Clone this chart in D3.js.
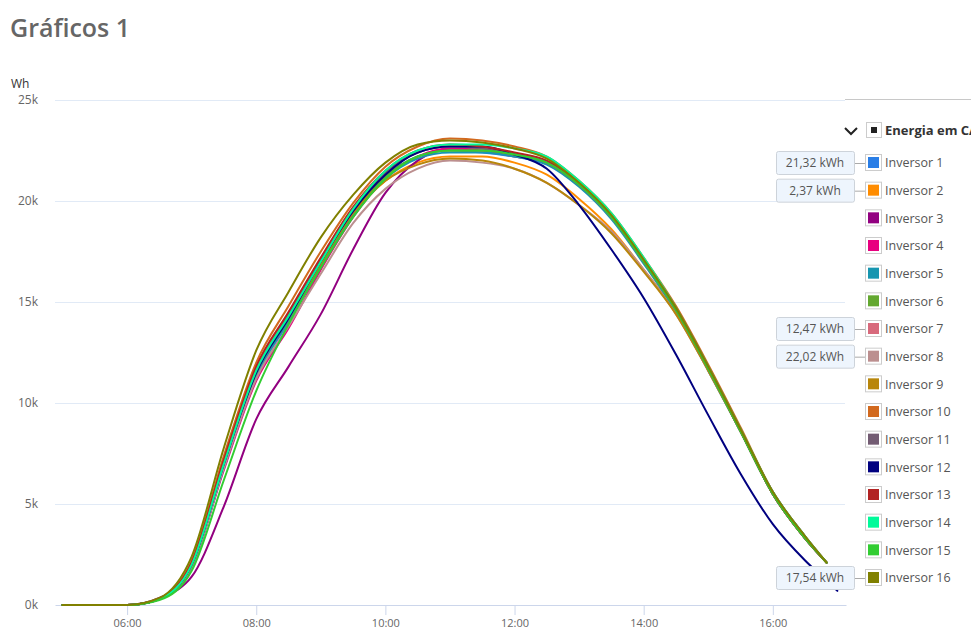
<!DOCTYPE html>
<html lang="pt">
<head>
    <meta charset="UTF-8">
    <script src="https://d3js.org/d3.v7.min.js"></script>
    <title>Gráficos 1</title>
    <style>
      body { margin: 0; background: #fff; }
      #container { width: 971px; height: 635px; }
      svg { font-family: "Open Sans", sans-serif; }
    </style>
</head>
<body>
    <div id="container"></div>
<script>
    // horarios das leituras
    var times = ["05:00","06:00","06:30","07:00","07:30","08:00","08:30","09:00","09:30","10:00","10:30","11:00",
                 "11:30","12:00","12:30","13:00","13:30","14:00","14:30","15:00","15:30","16:00","16:30","16:50","17:00"];

    // energia em CA (kWh) por inversor
    var inversor1  = [0,0,0.3,1.9,6.8,11.3,14.0,16.8,19.3,21.2,22.2,22.5,22.4,22.2,21.9,20.8,19.2,17.0,14.6,11.7,8.6,5.5,3.3,2.1,null];
    var inversor2  = [0,0,0.3,2.0,7.0,11.4,14.1,16.8,19.3,21.0,21.9,22.2,22.2,21.9,21.3,20.1,18.6,16.6,14.5,11.7,8.6,5.5,3.3,2.1,null];
    var inversor3  = [0,0,0.35,1.4,4.9,9.2,11.8,14.4,17.6,20.4,22.0,22.6,22.6,22.3,21.9,20.8,19.2,17.0,14.6,11.7,8.7,5.6,3.4,2.1,null];
    var inversor4  = [0,0,0.3,1.9,6.7,11.1,13.7,16.6,19.2,21.1,22.2,22.6,22.5,22.2,21.9,20.8,19.2,17.0,14.6,11.7,8.6,5.5,3.3,2.1,null];
    var inversor5  = [0,0,0.3,1.9,6.8,11.3,14.1,16.8,19.3,21.1,22.1,22.4,22.4,22.2,21.8,20.7,19.1,16.9,14.5,11.6,8.6,5.5,3.3,2.1,null];
    var inversor6  = [0,0,0.3,2.0,7.0,11.5,14.2,16.9,19.4,21.2,22.2,22.5,22.5,22.3,21.9,20.8,19.2,17.0,14.6,11.7,8.6,5.5,3.3,2.1,null];
    var inversor7  = [0,0,0.3,2.1,7.2,11.8,14.4,17.1,19.6,21.4,22.4,22.7,22.6,22.3,21.9,20.8,19.2,17.0,14.6,11.7,8.7,5.5,3.3,2.1,null];
    var inversor8  = [0,0,0.3,1.9,6.8,11.2,13.8,16.4,18.9,20.6,21.6,22.0,21.9,21.6,20.9,19.8,18.5,16.6,14.4,11.6,8.6,5.5,3.3,2.1,null];
    var inversor9  = [0,0,0.3,2.1,7.2,11.6,14.2,16.9,19.4,21.0,21.8,22.1,22.0,21.6,20.9,19.8,18.4,16.5,14.4,11.6,8.6,5.5,3.3,2.1,null];
    var inversor10 = [0,0,0.3,2.2,7.4,12.0,14.8,17.5,19.9,21.7,22.7,23.1,23.0,22.7,22.2,21.0,19.4,17.2,14.8,11.9,8.8,5.6,3.4,2.1,null];
    var inversor11 = [0,0,0.3,2.0,7.0,11.6,14.4,17.1,19.6,21.4,22.4,22.7,22.6,22.3,21.9,20.8,19.2,17.0,14.6,11.7,8.6,5.5,3.3,2.1,null];
    var inversor12 = [0,0,0.3,2.0,7.0,11.5,14.2,17.0,19.5,21.3,22.4,22.7,22.7,22.3,21.6,19.8,17.6,15.2,12.4,9.4,6.5,4.0,2.2,1.2,0.7];
    var inversor13 = [0,0,0.3,2.1,7.2,11.8,14.5,17.2,19.7,21.5,22.5,22.8,22.7,22.4,22.0,20.9,19.3,17.1,14.7,11.8,8.7,5.5,3.3,2.1,null];
    var inversor14 = [0,0,0.3,2.0,7.0,11.6,14.3,17.0,19.6,21.5,22.5,22.8,22.8,22.6,22.2,21.0,19.4,17.2,14.7,11.8,8.7,5.6,3.4,2.1,null];
    var inversor15 = [0,0,0.25,1.7,6.2,10.6,13.9,16.7,19.2,21.1,22.2,22.5,22.5,22.3,21.9,20.8,19.2,17.0,14.6,11.7,8.6,5.5,3.3,2.1,null];
    var inversor16 = [0,0,0.35,2.4,7.8,12.6,15.5,18.2,20.3,21.9,22.8,23.0,22.9,22.6,22.1,20.9,19.3,17.1,14.7,11.8,8.7,5.6,3.4,2.1,null];

    var seriesNames  = ["Inversor 1","Inversor 2","Inversor 3","Inversor 4","Inversor 5","Inversor 6","Inversor 7","Inversor 8",
                        "Inversor 9","Inversor 10","Inversor 11","Inversor 12","Inversor 13","Inversor 14","Inversor 15","Inversor 16"];
    var seriesColors = ["#2a7ee6","#ff8c00","#920080","#e8007f","#1796b0","#63a830","#d86a7c","#bc8f8f",
                        "#b8860b","#d2691e","#735c73","#000080","#b22222","#00fa9a","#32cd32","#808000"];

    // rotulos
    var xTicks = ["06:00","08:00","10:00","12:00","14:00","16:00"];
    var yTicks = [0,5,10,15,20,25];
    var tooltipNames  = ["Inversor 1","Inversor 2","Inversor 7","Inversor 8","Inversor 16"];
    var tooltipValues = ["21,32 kWh","2,37 kWh","12,47 kWh","22,02 kWh","17,54 kWh"];

    var allSeries = [inversor1,inversor2,inversor3,inversor4,inversor5,inversor6,inversor7,inversor8,
                     inversor9,inversor10,inversor11,inversor12,inversor13,inversor14,inversor15,inversor16];

    var svg_width = 971, svg_height = 635,
        plot = {left: 55, right: 846, top: 100, bottom: 605};

    var parseTime = d3.timeParse("%H:%M");
    var timeDates = times.map(parseTime);

    var x_scale = d3.scaleTime()
        .domain([parseTime("04:53"), parseTime("17:08")])
        .range([plot.left, plot.right]);
    var y_scale = d3.scaleLinear().domain([0, 25]).range([plot.bottom, plot.top]);

    var svg = d3.select("#container").append("svg")
        .attr("width", svg_width).attr("height", svg_height);

    // titulo
    svg.append("text").attr("x", 10).attr("y", 37)
        .text("Gráficos 1")
        .style("font-size", "25px").style("font-weight", 600).style("fill", "#666");

    // unidade
    svg.append("text").attr("x", 11).attr("y", 88)
        .text("Wh").style("font-size", "12px").style("fill", "#333");

    // grade horizontal
    svg.append("g").selectAll("line").data(yTicks).enter().append("line")
        .attr("x1", plot.left).attr("x2", plot.right - 1)
        .attr("y1", d => y_scale(d) + 0.5).attr("y2", d => y_scale(d) + 0.5)
        .style("stroke", d => d === 0 ? "none" : "#e1eaf6").style("stroke-width", 1);

    var y_axis = d3.axisLeft(y_scale).tickValues(yTicks).tickFormat(d => d + "k").tickSize(0).tickPadding(0);
    var yg = svg.append("g").attr("transform", "translate(38,0)").call(y_axis);
    yg.select(".domain").remove();
    yg.selectAll("text").style("font-size", "12px").style("fill", "#666").style("font-family", "Open Sans");

    // eixo x
    var x_axis = d3.axisBottom(x_scale)
        .tickValues(xTicks.map(parseTime))
        .tickFormat(d3.timeFormat("%H:%M"))
        .tickSize(10).tickSizeOuter(0).tickPadding(4);
    var xg = svg.append("g").attr("transform", `translate(0,${plot.bottom})`).call(x_axis);
    xg.select(".domain").style("stroke", "#ccd6eb");
    xg.selectAll(".tick line").style("stroke", "#ccd6eb");
    xg.selectAll("text").style("font-size", "11px").style("fill", "#666").style("font-family", "Open Sans");

    // linhas
    var line = d3.line()
        .defined(d => d.v != null)
        .x(d => x_scale(d.t))
        .y(d => y_scale(d.v))
        .curve(d3.curveMonotoneX);

    svg.append("g").selectAll("path")
        .data(allSeries)
        .enter()
        .append("path")
        .attr("d", vals => line(vals.map((v, i) => ({t: timeDates[i], v: v}))))
        .style("fill", "none")
        .style("stroke", (d, i) => seriesColors[i])
        .style("stroke-width", 2)
        .style("stroke-linejoin", "round")
        .style("stroke-linecap", "round");

    // legenda
    var legend_y = d3.scaleLinear().domain([0, 15]).range([163, 578]);

    svg.append("line").attr("x1", 845).attr("x2", svg_width).attr("y1", 99.5).attr("y2", 99.5)
        .style("stroke", "#c8c8c8");

    svg.append("path").attr("d", "M845,128 L851,134 L857,128")
        .style("fill", "none").style("stroke", "#222").style("stroke-width", 2);
    svg.append("rect").attr("x", 866.5).attr("y", 122.5).attr("width", 15).attr("height", 15)
        .style("fill", "#fff").style("stroke", "#ccc");
    svg.append("rect").attr("x", 871).attr("y", 127).attr("width", 6).attr("height", 6).style("fill", "#222");
    svg.append("text").attr("x", 885).attr("y", 135).text("Energia em CA")
        .style("font-size", "13px").style("font-weight", 700).style("fill", "#333");

    var item = svg.append("g").selectAll(".item")
        .data(seriesNames)
        .enter()
        .append("g")
        .attr("class", "item")
        .attr("transform", (d, i) => `translate(0,${legend_y(i)})`);

    item.append("rect").attr("x", 865.5).attr("y", -8.5).attr("width", 16).attr("height", 16)
        .style("fill", "#fff").style("stroke", "#ccc");
    item.append("rect").attr("x", 868).attr("y", -6).attr("width", 11).attr("height", 11)
        .style("fill", (d, i) => seriesColors[i]);
    item.append("text").attr("x", 885).attr("y", 0).attr("dy", "0.35em").text(d => d)
        .style("font-size", "12.5px").style("fill", "#555");

    // caixas de valor
    var tip = svg.append("g").selectAll(".tip")
        .data(tooltipNames)
        .enter()
        .append("g")
        .attr("class", "tip")
        .attr("transform", d => `translate(0,${legend_y(seriesNames.indexOf(d))})`);

    tip.append("line").attr("x1", 854).attr("x2", 865).attr("y1", 0.5).attr("y2", 0.5).style("stroke", "#aaa");
    tip.append("rect").attr("x", 776.5).attr("y", -11.5).attr("width", 78).attr("height", 23).attr("rx", 2)
        .style("fill", "#eef5fd").style("stroke", "#cdd3da");
    tip.append("text").attr("x", 815).attr("y", 0).attr("dy", "0.35em").attr("text-anchor", "middle")
        .text((d, i) => tooltipValues[i])
        .style("font-size", "12px").style("fill", "#555");
</script>
</body>
</html>
